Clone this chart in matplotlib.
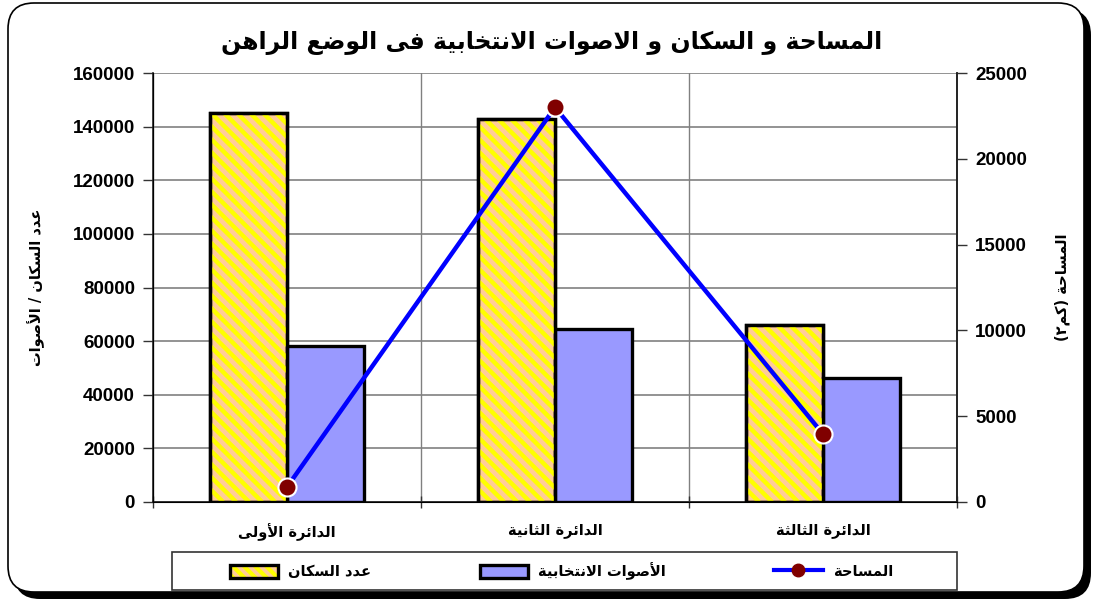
import numpy as np
import matplotlib
matplotlib.use("Agg")
import matplotlib.pyplot as plt
from matplotlib.patches import Patch, FancyBboxPatch, Rectangle
from matplotlib.lines import Line2D
from matplotlib.collections import LineCollection
from matplotlib.transforms import IdentityTransform

# ---------------- data ----------------
categories = ["الدائرة الأولى", "الدائرة الثانية", "الدائرة الثالثة"]
population = [145000, 142800, 66000]
votes = [58200, 64500, 46200]
area = [870, 23000, 3960]

title_text = "المساحة و السكان و الاصوات الانتخابية فى الوضع الراهن"
left_label = "عدد السكان / الأصوات"
right_label = "المساحة (كم٢)"
series_names = ["عدد السكان", "الأصوات الانتخابية", "المساحة"]
left_ticks = [0, 20000, 40000, 60000, 80000, 100000, 120000, 140000, 160000]
right_ticks = [0, 5000, 10000, 15000, 20000, 25000]

# ------------- Arabic shaping (presentation forms + visual order) -------------
FORMS = {
    'ا': (0xFE8D, 0xFE8E), 'أ': (0xFE83, 0xFE84), 'إ': (0xFE87, 0xFE88),
    'ب': (0xFE8F, 0xFE90, 0xFE91, 0xFE92), 'ة': (0xFE93, 0xFE94),
    'ت': (0xFE95, 0xFE96, 0xFE97, 0xFE98), 'ث': (0xFE99, 0xFE9A, 0xFE9B, 0xFE9C),
    'ح': (0xFEA1, 0xFEA2, 0xFEA3, 0xFEA4), 'خ': (0xFEA5, 0xFEA6, 0xFEA7, 0xFEA8),
    'د': (0xFEA9, 0xFEAA), 'ر': (0xFEAD, 0xFEAE),
    'س': (0xFEB1, 0xFEB2, 0xFEB3, 0xFEB4), 'ص': (0xFEB9, 0xFEBA, 0xFEBB, 0xFEBC),
    'ض': (0xFEBD, 0xFEBE, 0xFEBF, 0xFEC0), 'ع': (0xFEC9, 0xFECA, 0xFECB, 0xFECC),
    'ف': (0xFED1, 0xFED2, 0xFED3, 0xFED4), 'ك': (0xFED9, 0xFEDA, 0xFEDB, 0xFEDC),
    'ل': (0xFEDD, 0xFEDE, 0xFEDF, 0xFEE0), 'م': (0xFEE1, 0xFEE2, 0xFEE3, 0xFEE4),
    'ن': (0xFEE5, 0xFEE6, 0xFEE7, 0xFEE8), 'ه': (0xFEE9, 0xFEEA, 0xFEEB, 0xFEEC),
    'و': (0xFEED, 0xFEEE), 'ى': (0xFEEF, 0xFEF0),
    'ي': (0xFEF1, 0xFEF2, 0xFEF3, 0xFEF4), 'ئ': (0xFE89, 0xFE8A, 0xFE8B, 0xFE8C),
}
LAM_ALEF = {'ا': (0xFEFB, 0xFEFC), 'أ': (0xFEF7, 0xFEF8), 'إ': (0xFEF9, 0xFEFA)}
MIRROR = {'(': ')', ')': '('}


def shape(text):
    units = []
    i = 0
    while i < len(text):
        c = text[i]
        if c == 'ل' and i + 1 < len(text) and text[i + 1] in LAM_ALEF:
            units.append(('LA', text[i + 1]))
            i += 2
            continue
        units.append(('C', c))
        i += 1

    def joins_next(u):
        if u[0] == 'LA':
            return False
        f = FORMS.get(u[1])
        return f is not None and len(f) == 4

    def is_letter(u):
        return u[0] == 'LA' or u[1] in FORMS

    out = []
    for k, u in enumerate(units):
        prev_j = k > 0 and joins_next(units[k - 1])
        if u[0] == 'LA':
            iso, fin = LAM_ALEF[u[1]]
            out.append(chr(fin if prev_j else iso))
            continue
        c = u[1]
        if c not in FORMS:
            out.append(MIRROR.get(c, c))
            continue
        f = FORMS[c]
        nxt = k + 1 < len(units) and is_letter(units[k + 1])
        nxt_j = nxt and len(f) == 4
        if prev_j and nxt_j:
            out.append(chr(f[3]))
        elif prev_j:
            out.append(chr(f[1]))
        elif nxt_j:
            out.append(chr(f[2]))
        else:
            out.append(chr(f[0]))
    return ''.join(reversed(out))


AR = dict(family=['DejaVu Sans'], fontweight='bold')
NUM = dict(family=['Liberation Sans', 'DejaVu Sans'], fontweight='bold')

plt.rcParams['hatch.linewidth'] = 3.0

W, H = 1093, 601
fig = plt.figure(figsize=(W / 100, H / 100), dpi=100)
fig.patch.set_facecolor('white')


def px_box(l, t, r, b, **kw):
    return FancyBboxPatch((l, H - b), r - l, b - t,
                          boxstyle="round,pad=0,rounding_size=26",
                          transform=IdentityTransform(), **kw)


fig.patches.append(px_box(14, 9, 1091, 599, facecolor='black', edgecolor='black', lw=0, zorder=-3))
fig.patches.append(px_box(8, 3, 1084, 592, facecolor='white', edgecolor='black', lw=1.2, zorder=-2))
fig.patches.append(Rectangle((172, H - 590), 957 - 172, 38, transform=IdentityTransform(),
                             facecolor='white', edgecolor='#333333', lw=1.2, zorder=-1))

ax = fig.add_axes([153 / W, (H - 502) / H, (957 - 153) / W, (502 - 73) / H])
ax.set_facecolor('none')
ax2 = ax.twinx()

x = np.arange(len(categories))
bw = 0.287
pop_bars = ax.bar(x - bw / 2, population, width=bw, facecolor='#FFCC99',
                  edgecolor='black', linewidth=2.4, zorder=3)
vote_bars = ax.bar(x + bw / 2, votes, width=bw, facecolor='#9999FF',
                   edgecolor='black', linewidth=2.4, zorder=3)

ax.set_xlim(-0.5, len(categories) - 0.5)
ax.set_ylim(0, 160000)
ax.set_yticks(left_ticks)
ax.set_yticklabels([str(v) for v in left_ticks], **NUM, fontsize=13.5)
ax.set_xticks(x)
ax.set_xticklabels([shape(c) for c in categories], **AR, fontsize=10.5)
ax.set_xticks(np.arange(-0.5, len(categories)), minor=True)
ax.tick_params(axis='x', which='major', length=0, pad=15)
ax.tick_params(axis='x', which='minor', length=9, direction='inout', width=1, color='#333333')
ax.tick_params(axis='y', which='major', length=7, direction='out', width=1, color='#333333', pad=6)
ax.grid(axis='y', color='#808080', lw=1.2)
ax.grid(axis='x', which='minor', color='#808080', lw=1.0)
ax.set_axisbelow(True)
ax.spines['top'].set_visible(False)
for s in ['left', 'bottom', 'right']:
    ax.spines[s].set_color('#222222')
    ax.spines[s].set_linewidth(1.2)

# yellow diagonal stripes clipped to population bars
fig.canvas.draw()
for b in pop_bars:
    bb = b.get_window_extent()
    x0, y0, x1, y1 = bb.x0, bb.y0, bb.x1, bb.y1
    step = 13
    segs = []
    for c in np.arange(x0 + y0 - step, x1 + y1 + step, step):
        segs.append([(c - y1, y1), (c - y0, y0)])
    lc = LineCollection(segs, colors='#FFFF00', linewidths=3.2, zorder=3.5)
    ax.add_collection(lc, autolim=False)
    lc.set_transform(IdentityTransform())
    lc.set_clip_path(b)
ax.bar(x - bw / 2, population, width=bw, facecolor='none',
       edgecolor='black', linewidth=2.4, zorder=4)

ax2.set_ylim(0, 25000)
ax2.set_yticks(right_ticks)
ax2.set_yticklabels([str(v) for v in right_ticks], **NUM, fontsize=13.5)
ax2.tick_params(axis='y', length=7, direction='out', width=1, color='#333333', pad=6)
ax2.spines['top'].set_visible(False)
ax2.spines['right'].set_color('#222222')
ax2.spines['right'].set_linewidth(1.2)
line, = ax2.plot(x, area, color='#0000FF', lw=3.2, marker='o', markersize=13,
                 markerfacecolor='#800000', markeredgecolor='white', markeredgewidth=1.5,
                 zorder=5, clip_on=False)

ax.set_ylabel(shape(left_label), **AR, fontsize=10.5)
ax.yaxis.set_label_coords((45 - 153) / 804, 0.5)
ax2.set_ylabel(shape(right_label), **AR, fontsize=10.5)
ax2.yaxis.set_label_coords((1055 - 153) / 804, 0.5)

fig.text(552 / W, (H - 43) / H, shape(title_text), ha='center', va='center',
         **AR, fontsize=17)

# legend
h_pop = (Patch(facecolor='#FFCC99', edgecolor='#FFFF00', hatch='\\\\\\', lw=0),
         Patch(facecolor='none', edgecolor='black', lw=2.4))
h_vote = Patch(facecolor='#9999FF', edgecolor='black', lw=2.4)
h_area = Line2D([], [], color='#0000FF', lw=3, marker='o', markersize=9,
                markerfacecolor='#800000', markeredgecolor='#800000')
leg = fig.legend([h_pop, h_vote, h_area], [shape(s) for s in series_names],
                 loc='center', bbox_to_anchor=(230 / W, (H - 590) / H, (893 - 230) / W, 38 / H),
                 mode='expand', ncol=3, frameon=False,
                 prop=dict(family='DejaVu Sans', weight='bold', size=10.5),
                 handlelength=3.3, handleheight=1.0, borderaxespad=0, borderpad=0,
                 handletextpad=0.7)

fig.savefig('out.png', dpi=100, facecolor='white')
